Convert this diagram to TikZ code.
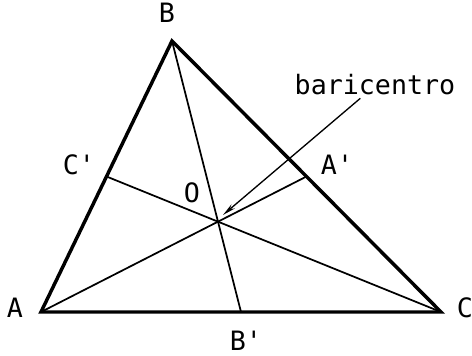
\documentclass[tikz,border=0pt]{standalone}
\usepackage{fontspec}
\newfontfamily\lblfont{DejaVu Sans Mono}
\usetikzlibrary{calc,arrows.meta}

\begin{document}
\begin{tikzpicture}[x=0.75pt,y=-0.75pt,
  lbl/.style={font=\lblfont\fontsize{20}{22}\selectfont, inner sep=0pt, anchor=base},
  side/.style={line width=2.6pt, line join=miter},
  median/.style={line width=1.3pt}]
\useasboundingbox (0,0) rectangle (472,356);
\coordinate (A) at (41,312);
\coordinate (B) at (172,41);
\coordinate (C) at (441,312);
\coordinate (Ap) at ($(B)!0.5!(C)$);
\coordinate (Bp) at ($(A)!0.5!(C)$);
\coordinate (Cp) at ($(A)!0.5!(B)$);
\coordinate (O) at ($(A)!2/3!(Ap)$);
\coordinate (tip) at (223,215);
\draw[median] (A) -- (Ap);
\draw[median] (B) -- (Bp);
\draw[median] (C) -- (Cp);
\draw[side] (A) -- (B) -- (C) -- cycle;
\node[lbl] (lA) at (15,318) {A};
\node[lbl] (lB) at (167,23) {B};
\node[lbl] (lC) at (465,318) {C};
\node[lbl] (lAp) at (337,175) {A'};
\node[lbl] (lBp) at (246,351) {B'};
\node[lbl] (lCp) at (79,175) {C'};
\node[lbl] (lO) at (192,203) {O};
\node[lbl] (bar) at (375,95) {baricentro};
\draw[-{Stealth[length=10pt,width=4pt]}, line width=1pt]
  ([xshift=-11pt,yshift=-2pt]bar.south) -- (tip);
\end{tikzpicture}
\end{document}
